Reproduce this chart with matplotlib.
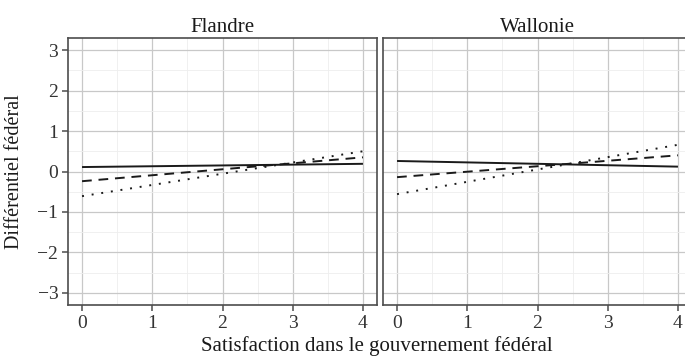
import numpy as np
import matplotlib
matplotlib.use("Agg")
import matplotlib.pyplot as plt
from matplotlib.ticker import MultipleLocator

plt.rcParams['font.family'] = ['Liberation Serif', 'DejaVu Serif']

# satisfaction scale and predicted federal differential per region
satisfaction = [0, 4]
regions = ["Flandre", "Wallonie"]
solid_vals = {"Flandre": [0.11, 0.19], "Wallonie": [0.26, 0.12]}
dashed_vals = {"Flandre": [-0.24, 0.35], "Wallonie": [-0.14, 0.40]}
dotted_vals = {"Flandre": [-0.61, 0.50], "Wallonie": [-0.56, 0.66]}
yticks = [-3, -2, -1, 0, 1, 2, 3]
xticks = [0, 1, 2, 3, 4]

fig = plt.figure(figsize=(6.85, 3.62), dpi=100)
w = 309 / 685
h = 267 / 362
b = 57 / 362
lefts = [68 / 685, 383 / 685]

border = "#4d4d4d"
for i, reg in enumerate(regions):
    ax = fig.add_axes([lefts[i], b, w, h])
    ax.set_xlim(-0.2, 4.2)
    ax.set_ylim(-3.3, 3.3)
    ax.xaxis.set_major_locator(MultipleLocator(1))
    ax.xaxis.set_minor_locator(MultipleLocator(0.5))
    ax.yaxis.set_major_locator(MultipleLocator(1))
    ax.yaxis.set_minor_locator(MultipleLocator(0.5))
    ax.grid(which="major", color="#c8c8c8", lw=0.9)
    ax.grid(which="minor", color="#eeeeee", lw=0.6)
    ax.set_axisbelow(True)

    ax.plot(satisfaction, solid_vals[reg], color="#1a1a1a", lw=1.4, solid_capstyle="butt")
    ax.plot(satisfaction, dashed_vals[reg], color="#1a1a1a", lw=1.4, dashes=(5, 3.5))
    ax.plot(satisfaction, dotted_vals[reg], color="#1a1a1a", lw=1.4, dashes=(1, 4))

    for s in ax.spines.values():
        s.set_color(border)
        s.set_linewidth(1.2)
    ax.tick_params(which="minor", length=0)
    ax.tick_params(which="major", length=4, width=1.1, color=border,
                   labelsize=14, labelcolor="#333333", pad=3)
    ax.set_xticks(xticks)
    ax.set_yticks(yticks)
    ax.set_yticklabels(["\u22123", "\u22122", "\u22121", "0", "1", "2", "3"])
    if i > 0:
        ax.tick_params(axis="y", left=False, labelleft=False)
    ax.set_title(reg, fontsize=15, color="#1a1a1a", pad=4)

fig.text(0.5 * (lefts[0] + 1.0), 0.016, "Satisfaction dans le gouvernement f\u00e9d\u00e9ral",
         ha="center", va="bottom", fontsize=15, color="#1a1a1a")
fig.text(0.008, b + h / 2, "Diff\u00e9rentiel f\u00e9d\u00e9ral", rotation=90,
         ha="left", va="center", fontsize=14.5, color="#1a1a1a")

fig.savefig("out.png", dpi=100)
